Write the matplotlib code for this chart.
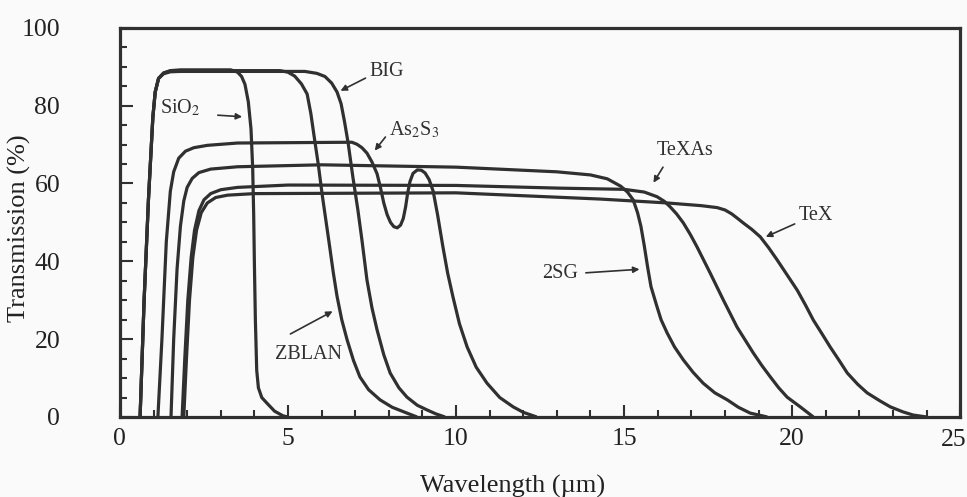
import matplotlib
matplotlib.use('Agg')
import matplotlib.pyplot as plt
from matplotlib.ticker import MultipleLocator, FixedFormatter

plt.rcParams.update({'font.family': 'Liberation Serif', 'mathtext.fontset': 'stix', 'font.size': 19})

# wavelength (um) / transmission (%)
sio2_x = [0.6, 0.72, 0.85, 0.98, 1.05, 1.15, 1.3, 1.5, 1.8, 3.3, 3.5, 3.62, 3.72, 3.82, 3.9, 3.95, 3.98, 4.0, 4.03, 4.07, 4.12, 4.22, 4.38, 4.6, 4.85, 5.0]
sio2_y = [0, 30, 56, 77, 83.5, 87, 88.4, 89, 89.2, 89.2, 88.6, 87.5, 85.5, 81, 74, 64, 52, 40, 25, 12, 7.5, 5, 3.5, 1.5, 0.3, 0]

zblan_x = [0.6, 0.72, 0.85, 0.98, 1.05, 1.15, 1.3, 1.5, 1.8, 4.76, 5.0, 5.2, 5.4, 5.57, 5.68, 5.78, 5.9, 6.02, 6.12, 6.22, 6.35, 6.46, 6.6, 6.76, 6.95, 7.14, 7.4, 7.74, 8.1, 8.54, 8.84]
zblan_y = [0, 30, 56, 77, 83.5, 87, 88.4, 88.9, 89, 89, 88.6, 87.6, 85.6, 83, 78, 72, 65, 57, 51, 45, 37, 31, 25, 19.8, 14.5, 10.3, 7, 4.4, 2.5, 1.0, 0]

big_x = [0.6, 0.72, 0.85, 0.98, 1.05, 1.15, 1.3, 1.5, 1.8, 5.5, 5.86, 6.1, 6.3, 6.46, 6.58, 6.68, 6.79, 6.93, 7.08, 7.2, 7.35, 7.5, 7.65, 7.85, 8.04, 8.3, 8.54, 8.85, 9.14, 9.4, 9.67]
big_y = [0, 30, 56, 77, 83.5, 87, 88.2, 88.7, 88.8, 88.8, 88.3, 87.5, 85.8, 83.5, 80.5, 76, 70.4, 61.7, 53.2, 45.5, 35.2, 28, 22.4, 16, 11.3, 7.5, 5.1, 3, 1.8, 0.8, 0]

as2s3_x = [1.13, 1.25, 1.38, 1.5, 1.6, 1.75, 1.95, 2.2, 2.6, 3.5, 6.9, 7.05, 7.2, 7.35, 7.5, 7.65, 7.75, 7.85, 7.95, 8.05, 8.15, 8.25, 8.35, 8.43, 8.5, 8.56, 8.63, 8.72, 8.85, 8.97, 9.08, 9.2, 9.32, 9.45, 9.61, 9.75, 9.91, 10.1, 10.33, 10.6, 10.92, 11.3, 11.7, 12.0, 12.4]
as2s3_y = [0, 20, 45, 58, 63, 66.5, 68.3, 69.2, 69.8, 70.4, 70.6, 70.1, 69.2, 67.8, 65.5, 62.5, 59, 55, 52, 50, 48.9, 48.6, 49.3, 51, 54, 57.5, 60.5, 62.6, 63.5, 63.4, 62.7, 61, 58, 52, 43.7, 37, 30.8, 24, 18, 12.8, 8.7, 5, 2.6, 1.2, 0]

sg2_x = [1.52, 1.6, 1.7, 1.8, 1.9, 2.0, 2.15, 2.35, 2.7, 3.5, 6.0, 10.0, 13.0, 14.0, 14.5, 14.9, 15.1, 15.27, 15.4, 15.5, 15.6, 15.7, 15.8, 15.98, 16.1, 16.28, 16.5, 16.76, 17.05, 17.35, 17.7, 18.07, 18.4, 18.75, 19.26]
sg2_y = [0, 20, 38, 49, 55.5, 59, 61.3, 62.8, 63.7, 64.3, 64.8, 64.2, 63, 62.2, 61.2, 59.3, 57.8, 55.8, 52.5, 49, 44, 38.5, 33.5, 28.3, 25, 21.6, 18, 14.7, 11.5, 8.7, 6.2, 4.4, 2.5, 1, 0]

texas_x = [1.85, 1.93, 2.02, 2.12, 2.22, 2.35, 2.5, 2.7, 3.0, 3.5, 5.0, 10.0, 13.1, 15.0, 15.6, 15.98, 16.2, 16.37, 16.56, 16.76, 16.97, 17.17, 17.56, 17.95, 18.36, 18.84, 19.1, 19.35, 19.6, 19.85, 20.24, 20.45, 20.63]
texas_y = [0, 15, 30, 41, 48, 53, 55.8, 57.4, 58.4, 59, 59.6, 59.5, 58.8, 58.5, 57.8, 56.6, 55.4, 54, 52.2, 49.9, 46.9, 43.7, 37, 30.1, 23.1, 16.5, 13.2, 10.3, 7.5, 5.1, 2.6, 1.2, 0]

tex_x = [1.9, 1.98, 2.07, 2.17, 2.28, 2.42, 2.6, 2.85, 3.2, 4.0, 10.0, 14.29, 16.28, 17.3, 17.77, 18.0, 18.2, 18.38, 18.54, 18.8, 19.05, 19.3, 19.55, 19.85, 20.15, 20.4, 20.63, 20.9, 21.13, 21.4, 21.64, 21.95, 22.23, 22.6, 22.92, 23.3, 23.6, 24.0]
tex_y = [0, 15, 30, 41, 48, 52.5, 55, 56.4, 57, 57.4, 57.6, 56, 55, 54.3, 53.8, 53.2, 52.2, 51, 49.9, 48.2, 46.3, 43.5, 40.4, 36.5, 32.6, 28.7, 24.9, 21.2, 18, 14.5, 11.3, 8.4, 6.2, 4.2, 2.6, 1.3, 0.5, 0]

curves = [(sio2_x, sio2_y), (zblan_x, zblan_y), (big_x, big_y), (as2s3_x, as2s3_y),
          (sg2_x, sg2_y), (texas_x, texas_y), (tex_x, tex_y)]

x_ticks = [0, 5, 10, 15, 20, 25]
x_ticklabels = ['0', '5', '10', '15', '20', '']  # '25' drawn separately, nudged inside the canvas

# label text, text position, arrow start, arrow tip
labels = [
    ('SiO$_2$', (1.8, 79.4), (2.83, 77.6), (3.72, 77.1)),
    ('BIG', (7.95, 88.7), (7.38, 87.4), (6.49, 83.5)),
    ('As$_2$S$_3$', (8.75, 73.8), (7.95, 72.5), (7.53, 67.9)),
    ('TeXAs', (16.8, 68.6), (16.2, 64.8), (15.83, 59.6)),
    ('2SG', (13.1, 36.8), (13.78, 37.0), (15.54, 38.0)),
    ('TeX', (20.7, 51.7), (20.15, 49.9), (19.14, 46.0)),
    ('ZBLAN', (5.6, 16.0), (5.0, 21.0), (6.4, 27.5)),
]

ink = '#303030'
txt_col = '#222222'
fig = plt.figure(figsize=(9.67, 4.97), dpi=100, facecolor='#fafafa')
ax = fig.add_axes([0.124, 0.161, 0.869, 0.783], facecolor='#fafafa')

for xs, ys in curves:
    ax.plot(xs, ys, color=ink, lw=2.3, solid_joinstyle='round', solid_capstyle='butt')

for txt, tpos, astart, atip in labels:
    ax.text(tpos[0], tpos[1], txt, ha='center', va='center', fontsize=14.5, color=ink)
    ax.annotate('', xy=atip, xytext=astart,
                arrowprops=dict(arrowstyle='-|>', color=ink, lw=1.2, mutation_scale=9))

ax.set_xlim(0, 25)
ax.set_ylim(0, 100)
ax.set_xticks(x_ticks)
ax.xaxis.set_major_formatter(FixedFormatter(x_ticklabels))
ax.xaxis.set_minor_locator(MultipleLocator(1))
ax.yaxis.set_major_locator(MultipleLocator(20))
ax.yaxis.set_minor_locator(MultipleLocator(5))
ax.tick_params(axis='both', which='both', direction='in', color=ink, labelcolor=txt_col, width=1.5, labelsize=18.5)
ax.tick_params(axis='both', which='major', length=9)
ax.tick_params(axis='both', which='minor', length=5)
ax.tick_params(axis='x', which='major', pad=8)
ax.tick_params(axis='y', which='major', pad=43)
ax.annotate('25', xy=(25, 0), xytext=(-5, -8.5), textcoords='offset points',
            ha='center', va='top', fontsize=18.5, color=txt_col, annotation_clip=False)
for sp in ax.spines.values():
    sp.set_linewidth(2.3)
    sp.set_color(ink)

ax.set_xlabel('Wavelength (µm)', color=txt_col)
ax.set_ylabel('Transmission (%)', color=txt_col)
ax.xaxis.set_label_coords(0.467, -0.15)
ax.yaxis.set_label_coords(-0.106, 0.486)

fig.savefig('out.png', dpi=100, facecolor=fig.get_facecolor())
